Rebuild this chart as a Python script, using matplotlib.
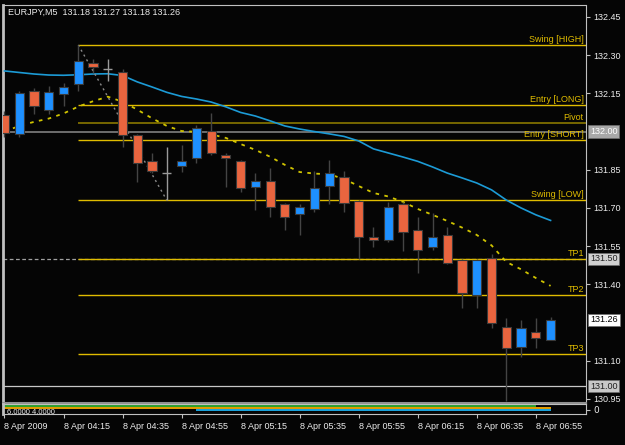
import matplotlib
matplotlib.use("Agg")
import matplotlib.pyplot as plt
import numpy as np

# --- Données (EURJPY M5, 8 Apr 2009, 03:55 -> 07:00) ---
opens = [132.065, 131.99, 132.16, 132.085, 132.146, 132.186, 132.268, 132.245, 132.235, 131.987,
         131.886, 131.836, 131.865, 131.898, 132.004, 131.908, 131.886, 131.784, 131.806, 131.715,
         131.676, 131.695, 131.786, 131.823, 131.728, 131.587, 131.574, 131.716, 131.614, 131.546,
         131.594, 131.496, 131.358, 131.505, 131.234, 131.155, 131.214, 131.18]
highs = [132.08, 132.16, 132.17, 132.18, 132.19, 132.34, 132.285, 132.285, 132.245, 131.99,
         131.917, 131.94, 131.947, 132.026, 132.074, 131.917, 131.89, 131.836, 131.858, 131.72,
         131.715, 131.846, 131.888, 131.846, 131.73, 131.627, 131.725, 131.725, 131.666, 131.679,
         131.627, 131.50, 131.50, 131.52, 131.267, 131.26, 131.267, 131.27]
lows = [131.98, 131.98, 132.07, 132.07, 132.10, 132.16, 132.23, 132.20, 131.94, 131.80,
        131.836, 131.73, 131.843, 131.876, 131.908, 131.784, 131.764, 131.692, 131.664, 131.614,
        131.594, 131.686, 131.716, 131.686, 131.50, 131.548, 131.568, 131.529, 131.444, 131.535,
        131.48, 131.306, 131.306, 131.228, 130.94, 131.116, 131.149, 131.18]
closes = [131.996, 132.15, 132.10, 132.157, 132.175, 132.277, 132.255, 132.245, 131.987, 131.876,
          131.846, 131.836, 131.886, 132.015, 131.915, 131.898, 131.777, 131.806, 131.705, 131.666,
          131.705, 131.777, 131.836, 131.718, 131.587, 131.574, 131.705, 131.607, 131.535, 131.585,
          131.485, 131.365, 131.496, 131.247, 131.149, 131.228, 131.188, 131.26]

ma_slow = [132.238, 132.232, 132.226, 132.222, 132.221, 132.223, 132.226, 132.227, 132.220, 132.195,
           132.175, 132.154, 132.138, 132.128, 132.116, 132.097, 132.075, 132.061, 132.042, 132.022,
           132.010, 132.000, 131.991, 131.981, 131.963, 131.932, 131.916, 131.900, 131.883, 131.861,
           131.837, 131.818, 131.798, 131.771, 131.731, 131.700, 131.673, 131.651]
ma_fast = [132.000, 132.022, 132.038, 132.051, 132.071, 132.098, 132.119, 132.137, 132.117, 132.086,
           132.052, 132.022, 132.002, 131.999, 131.989, 131.975, 131.951, 131.928, 131.901, 131.869,
           131.841, 131.835, 131.832, 131.814, 131.786, 131.759, 131.745, 131.724, 131.696, 131.673,
           131.649, 131.623, 131.594, 131.553, 131.488, 131.459, 131.425, 131.394]

zigzag_idx = [5, 11]
zigzag_val = [132.34, 131.73]

level_names = ["Swing [HIGH]", "Entry [LONG]", "Pivot", "Entry [SHORT]", "Swing [LOW]", "TP1", "TP2", "TP3"]
level_values = [132.34, 132.106, 132.033, 131.965, 131.732, 131.50, 131.36, 131.127]
level_start = 5

time_labels = ["8 Apr 2009", "8 Apr 04:15", "8 Apr 04:35", "8 Apr 04:55", "8 Apr 05:15",
               "8 Apr 05:35", "8 Apr 05:55", "8 Apr 06:15", "8 Apr 06:35", "8 Apr 06:55"]
time_idx = [0, 4, 8, 12, 16, 20, 24, 28, 32, 36]

price_ticks = [130.95, 131.10, 131.40, 131.55, 131.70, 131.85, 132.15, 132.30, 132.45]

# sous-fenêtre indicateur
sub_green_end = 36
sub_blue_start = 13

# --- Couleurs ---
BG = "#050505"
BULL = "#1e90ff"
BEAR = "#e9653f"
GOLD = "#e0bc00"
TXT = "#ececec"
FONT = "Liberation Sans"

fig = plt.figure(figsize=(6.25, 4.45), dpi=100, facecolor=BG)
ax = fig.add_axes([3/625, 1-403/445, 583/625, 398/445], facecolor=BG)
sub = fig.add_axes([3/625, 1-414/445, 583/625, 10/445], facecolor=BG, sharex=ax)

n = len(opens)
x = np.arange(n)
w = 0.62

# niveaux
for name, v in zip(level_names, level_values):
    c = "#8a7800" if name == "Pivot" else GOLD
    ax.hlines(v, level_start, 39.4, color=c, lw=1.2 if name == "Pivot" else 1.0, zorder=2)
    ax.text(39.25, v + 0.004, name, color=GOLD, fontsize=6.5, ha="right", va="bottom",
            family=FONT, zorder=5)
ax.axhline(132.00, color="#808080", lw=1.2, zorder=1)
ax.axhline(131.00, color="#c8c8c8", lw=0.9, zorder=1)
ax.axhline(131.50, color="#a0a0a0", lw=0.9, ls=(0, (3, 2)), zorder=1)

# moyennes mobiles
ax.plot(x, ma_slow, color="#1c9bd6", lw=1.2, zorder=3)
ax.plot(x, ma_fast, color="#d0c400", lw=1.3, ls=(0, (2, 3)), zorder=3)
ax.plot(zigzag_idx, zigzag_val, color="#8a8a8a", lw=1.0, ls=(0, (1.5, 2.5)), zorder=3)

# bougies
for i in range(n):
    o, h, l, c = opens[i], highs[i], lows[i], closes[i]
    if abs(c - o) < 1e-6:
        ax.vlines(i, l, h, color="#9a9a9a", lw=1, zorder=4)
        ax.hlines(o, i - w/2, i + w/2, color="#9a9a9a", lw=1, zorder=4)
        continue
    ax.vlines(i, l, h, color="#444444", lw=1, zorder=4)
    col = BULL if c > o else BEAR
    ax.bar(i, abs(c - o), bottom=min(o, c), width=w, color=col, edgecolor="#3a3a3a",
           lw=0.8, zorder=5)

ax.set_xlim(-0.1, 39.4)
ax.set_ylim(130.934, 132.497)

ax.yaxis.tick_right()
ax.set_yticks(price_ticks)
ax.set_yticklabels([f"{t:.2f}" for t in price_ticks])
ax.tick_params(axis="y", colors="#c0c0c0", labelcolor=TXT, labelsize=6.5, length=3, pad=2)
ax.tick_params(axis="x", bottom=False, labelbottom=False)
for lab in ax.get_yticklabels():
    lab.set_family(FONT)

# étiquettes de prix surlignées
marks = [(132.00, "#a8a8a8", "white"), (131.50, "#d0d0d0", "#202020"),
         (131.26, "white", "black"), (131.00, "#c8c8c8", "#202020")]
for v, fc, tc in marks:
    ax.annotate(f"{v:.2f}", xy=(1, v), xycoords=("axes fraction", "data"),
                xytext=(3, 0), textcoords="offset points", va="center", ha="left",
                fontsize=6.5, color=tc, family=FONT, annotation_clip=False,
                bbox=dict(boxstyle="square,pad=0.2", fc=fc, ec="#707070", lw=0.5))

for s in ax.spines.values():
    s.set_color("#c0c0c0")
ax.spines["left"].set_linewidth(2)
ax.spines["top"].set_linestyle((0, (2, 1)))
ax.spines["bottom"].set_color("#909090")
ax.spines["bottom"].set_linewidth(1.5)

# sous-fenêtre
sub.plot(x[:sub_green_end + 1], [6.0] * (sub_green_end + 1), color="#2ca02c", lw=1.6, solid_capstyle="butt")
sub.plot(x, [4.6] * n, color="#e8a000", lw=1.4, solid_capstyle="butt")
sub.plot(x[sub_blue_start:], [2.8] * (n - sub_blue_start), color="#1aa6e0", lw=1.4, solid_capstyle="butt")
sub.set_ylim(0, 7.2)
sub.text(0.2, 1.2, "6.0000 4.0000", color=TXT, fontsize=5.5, family=FONT, va="center")
sub.yaxis.tick_right()
sub.set_yticks([3.0])
sub.set_yticklabels(["0"])
sub.tick_params(axis="y", colors="#c0c0c0", labelcolor=TXT, labelsize=6.5, length=3, pad=2)
sub.set_xticks(time_idx)
sub.set_xticklabels(time_labels)
sub.tick_params(axis="x", colors="#c0c0c0", labelcolor=TXT, labelsize=6.5, length=3, pad=3)
for lab in sub.get_xticklabels():
    lab.set_ha("left")
    lab.set_family(FONT)
for s in sub.spines.values():
    s.set_color("#c0c0c0")
sub.spines["left"].set_linewidth(2)

fig.text(8/625, 1 - 12/445, "EURJPY,M5  131.18 131.27 131.18 131.26", color=TXT,
         fontsize=6.5, family=FONT, va="center")

fig.savefig("out.png", dpi=100, facecolor=BG)
